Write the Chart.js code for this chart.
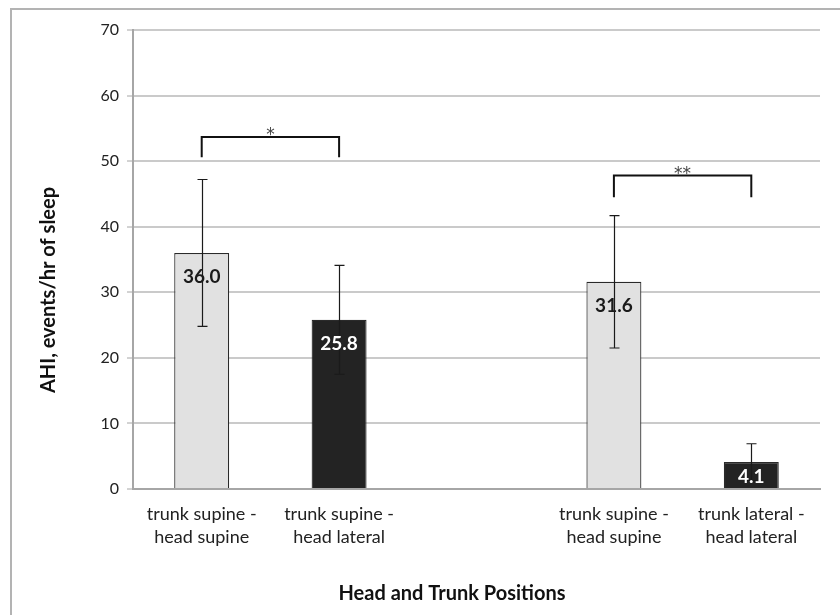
<!DOCTYPE html>
<html>
<head>
<meta charset="utf-8">
<script src="https://cdn.jsdelivr.net/npm/chart.js@4.4.1/dist/chart.umd.min.js"></script>
<style>
  html, body { margin: 0; padding: 0; background: #fff; }
  #wrap { position: relative; width: 840px; height: 615px; }
</style>
</head>
<body>
<div id="wrap"><canvas id="c" width="840" height="615"></canvas></div>
<script>
// Positions along the x axis (third slot left empty as a group separator)
const categories = [
  ['trunk supine -', 'head supine'],
  ['trunk supine -', 'head lateral'],
  '',
  ['trunk supine -', 'head supine'],
  ['trunk lateral -', 'head lateral']
];
// Mean AHI (events/hr of sleep) per position
const ahiMeans = [36.0, 25.8, null, 31.6, 4.1];
// Error bar half-widths
const ahiErrors = [11.2, 8.3, null, 10.1, 2.8];
// Bar fills: supine head = light grey, lateral head = near black
const barFills = ['#e1e1e1', '#232323', '#ffffff', '#e1e1e1', '#232323'];
const labelColors = ['#1a1a1a', '#ffffff', '#000', '#1a1a1a', '#ffffff'];
// Significance brackets: [from index, to index, top value, end value, marker]
const bracketFrom = [0, 3];
const bracketTo = [1, 4];
const bracketTop = [53.7, 47.8];
const bracketEnd = [50.6, 44.5];
const bracketMark = ['*', '**'];
// Y axis ticks
const yTicks = [0, 10, 20, 30, 40, 50, 60, 70];
const xTitle = 'Head and Trunk Positions';
const yTitle = 'AHI, events/hr of sleep';

const FONT = 'Lato, "Open Sans", sans-serif';

const framePlugin = {
  id: 'frame',
  afterDraw(chart) {
    const ctx = chart.ctx;
    ctx.save();
    ctx.strokeStyle = '#b3b3b3';
    ctx.lineWidth = 2;
    ctx.strokeRect(11, 9, 860, 640);
    // axis titles
    ctx.fillStyle = '#111';
    ctx.font = 'bold 20px ' + FONT;
    ctx.textAlign = 'center';
    ctx.textBaseline = 'middle';
    ctx.fillText(xTitle, 452, 594);
    ctx.translate(49, 290);
    ctx.rotate(-Math.PI / 2);
    ctx.font = 'bold 20px ' + FONT;
    ctx.fillText(yTitle, 0, 0);
    ctx.restore();
  }
};

const errorBarPlugin = {
  id: 'errorBars',
  afterDatasetsDraw(chart) {
    const ctx = chart.ctx;
    const meta = chart.getDatasetMeta(0);
    const y = chart.scales.y;
    ctx.save();
    ctx.strokeStyle = '#1a1a1a';
    ctx.lineWidth = 1.2;
    meta.data.forEach((bar, i) => {
      if (ahiMeans[i] == null) return;
      const x = Math.round(bar.x) + 0.5;
      const yHi = y.getPixelForValue(ahiMeans[i] + ahiErrors[i]);
      const yLo = y.getPixelForValue(ahiMeans[i] - ahiErrors[i]);
      ctx.beginPath();
      ctx.moveTo(x, yHi); ctx.lineTo(x, yLo);
      ctx.moveTo(x - 5, yHi); ctx.lineTo(x + 5, yHi);
      ctx.moveTo(x - 5, yLo); ctx.lineTo(x + 5, yLo);
      ctx.stroke();
    });
    // value labels inside the bars
    ctx.font = 'bold 19px ' + FONT;
    ctx.textAlign = 'center';
    ctx.textBaseline = 'middle';
    meta.data.forEach((bar, i) => {
      if (ahiMeans[i] == null) return;
      ctx.fillStyle = labelColors[i];
      const top = y.getPixelForValue(ahiMeans[i]);
      const bottom = y.getPixelForValue(0);
      const off = Math.min(24, (bottom - top) / 2 + 1);
      ctx.fillText(ahiMeans[i].toFixed(1), bar.x, top + off);
    });
    // significance brackets
    ctx.strokeStyle = '#111';
    ctx.lineWidth = 2;
    ctx.fillStyle = '#444';
    ctx.font = '17px "DejaVu Sans", sans-serif';
    ctx.textBaseline = 'alphabetic';
    bracketFrom.forEach((f, k) => {
      const x1 = meta.data[f].x;
      const x2 = meta.data[bracketTo[k]].x;
      const yt = y.getPixelForValue(bracketTop[k]);
      const ye = y.getPixelForValue(bracketEnd[k]);
      ctx.beginPath();
      ctx.moveTo(x1, ye); ctx.lineTo(x1, yt); ctx.lineTo(x2, yt); ctx.lineTo(x2, ye);
      ctx.stroke();
      ctx.fillText(bracketMark[k], (x1 + x2) / 2, yt + 3);
    });
    ctx.restore();
  }
};

new Chart(document.getElementById('c'), {
  type: 'bar',
  data: {
    labels: categories,
    datasets: [{
      data: ahiMeans,
      backgroundColor: barFills,
      borderColor: '#2a2a2a',
      borderWidth: 1.2,
      barPercentage: 0.4,
      categoryPercentage: 1.0
    }]
  },
  options: {
    responsive: false,
    animation: false,
    devicePixelRatio: 1,
    layout: { padding: { top: 30, right: 20, left: 0, bottom: 0 } },
    plugins: { legend: { display: false }, tooltip: { enabled: false } },
    scales: {
      x: {
        grid: { display: false, drawTicks: false },
        border: { color: '#a6a6a6', width: 2 },
        ticks: {
          color: '#222',
          font: { family: FONT, size: 18, lineHeight: 1.28 },
          padding: 14,
          maxRotation: 0,
          autoSkip: false
        },
        afterFit(scale) { scale.height = 126; }
      },
      y: {
        min: 0,
        max: 70,
        afterBuildTicks(scale) { scale.ticks = yTicks.map(v => ({ value: v })); },
        grid: { color: '#cacaca', lineWidth: 2, tickLength: 6, tickColor: '#a6a6a6', tickWidth: 1 },
        border: { color: '#a6a6a6', width: 2 },
        ticks: {
          color: '#222',
          font: { family: FONT, size: 16 },
          padding: 8
        },
        afterFit(scale) { scale.width = 133; }
      }
    }
  },
  plugins: [framePlugin, errorBarPlugin]
});
</script>
</body>
</html>
